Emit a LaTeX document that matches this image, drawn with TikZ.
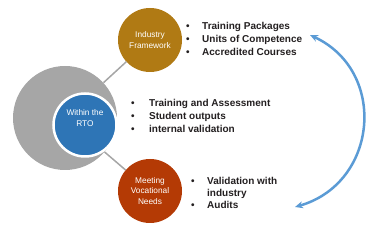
\documentclass[tikz,border=0pt]{standalone}
\usepackage{fontspec}
\setmainfont{Liberation Sans}
\usepackage{xcolor}
\usetikzlibrary{arrows.meta, positioning}

\definecolor{rtogray}{RGB}{166,166,166}
\definecolor{rtoblue}{RGB}{46,117,182}
\definecolor{indgold}{RGB}{176,122,20}
\definecolor{vocred}{RGB}{180,58,5}
\definecolor{cycleblue}{RGB}{91,155,213}
\definecolor{listtext}{RGB}{35,31,32}

\begin{document}
\begin{tikzpicture}[x=1pt, y=1pt, >={Stealth[length=8pt,width=7pt]},
    hub/.style={circle, inner sep=0pt, minimum size=64pt, text=white,
        align=center, font=\fontsize{8.3}{10.5}\selectfont},
    itemlist/.style={anchor=base west, inner sep=0pt, text=listtext,
        font=\bfseries\fontsize{10}{13}\selectfont},
    link/.style={draw=rtogray, line width=1.5pt}]

    % =================================================================
    % 1. FRAME AND BASIC PARAMETERS
    % =================================================================
    \useasboundingbox (0,0) rectangle (372,229);
    \def\gap{12.5pt}   % space between bullet and item text

    % =================================================================
    % 2. THE CIRCLES
    % =================================================================
    % Gray ring behind the RTO circle
    \node[circle, fill=rtogray, inner sep=0pt, minimum size=104pt] (ring) at (65,111) {};

    % RTO circle with white rim, its label sits a little high
    \node[hub, fill=rtoblue, draw=white, line width=2.5pt, minimum size=63pt] (rto) at (85,104) {};
    \node[text=white, align=center, font=\fontsize{8.3}{10.5}\selectfont] (rtotext) at (85,111) {Within the\\RTO};

    % Industry and vocational circles
    \node[hub, fill=indgold] (industry) at (150,189) {Industry\\Framework};
    \node[hub, fill=vocred] (needs) at (150,38) {Meeting\\Vocational\\Needs};

    % Gray links from the ring
    \draw[link] (ring) -- (industry);
    \draw[link] (ring) -- (needs);

    % =================================================================
    % 3. BULLET LISTS
    % =================================================================
    \node[itemlist] (industrylist) at (186,199) {%
        \begin{tabular}[t]{@{}l@{\hspace{\gap}}l@{}}
            \textbullet & Training Packages\\
            \textbullet & Units of Competence\\
            \textbullet & Accredited Courses
        \end{tabular}};

    \node[itemlist] (rtolist) at (131,122) {%
        \begin{tabular}[t]{@{}l@{\hspace{14.5pt}}l@{}}
            \textbullet & Training and Assessment\\
            \textbullet & Student outputs\\
            \textbullet & internal validation
        \end{tabular}};

    \node[itemlist, font=\bfseries\fontsize{10}{12}\selectfont] (needslist) at (191,44) {%
        \begin{tabular}[t]{@{}l@{\hspace{\gap}}l@{}}
            \textbullet & Validation with\\
                        & industry\\
            \textbullet & Audits
        \end{tabular}};

    % =================================================================
    % 4. CYCLE ARROW ON THE RIGHT
    % =================================================================
    \coordinate (cyclebot) at (295,22);
    \coordinate (cycletop) at (310,194);
    \draw[<->, cycleblue, line width=2.5pt] (cyclebot) to[out=16, in=-25, looseness=1.28] (cycletop);

\end{tikzpicture}
\end{document}
